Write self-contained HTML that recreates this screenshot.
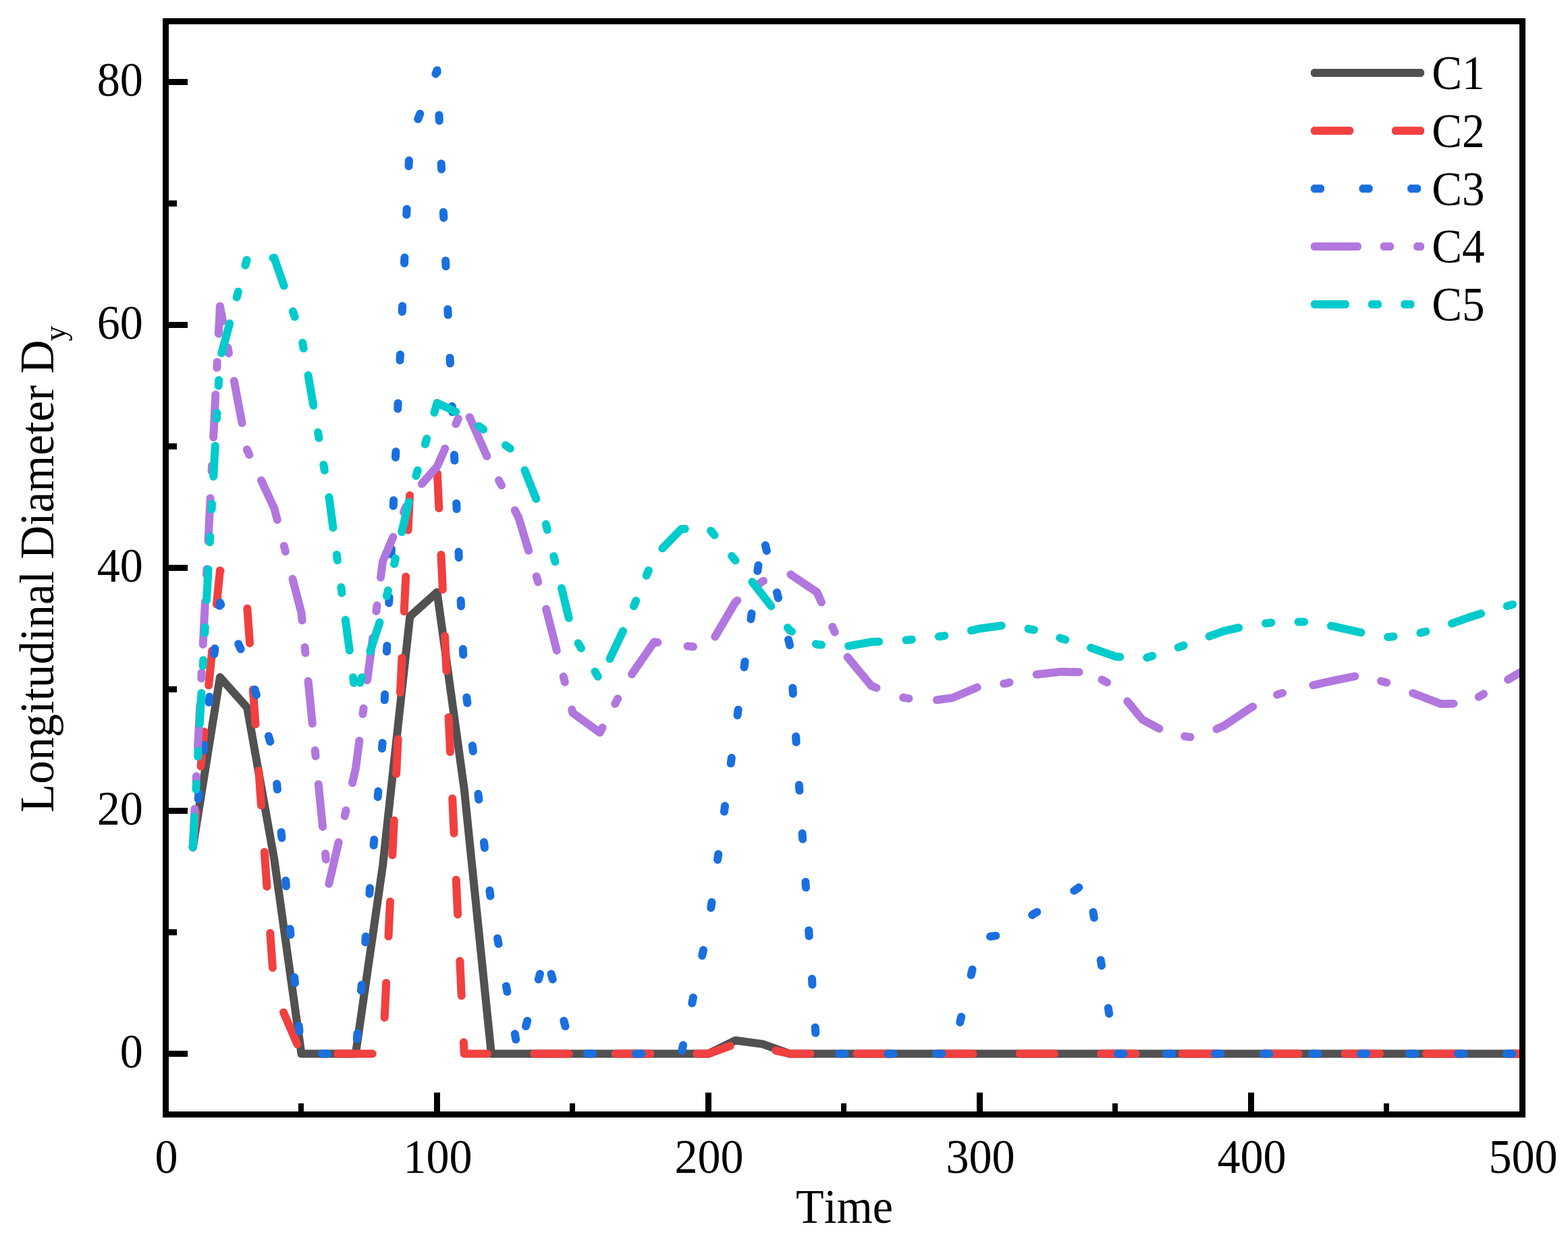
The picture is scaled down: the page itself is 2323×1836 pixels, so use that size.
<!DOCTYPE html>
<html lang="en">
<head>
<meta charset="utf-8">
<title>Longitudinal Diameter vs Time</title>
<style>
html,body{margin:0;padding:0;background:#fff;}
svg{display:block;}
text{font-family:"Liberation Serif","Times New Roman",Times,serif;fill:#000;font-kerning:none;}
.c{fill:none;stroke-width:12;stroke-linecap:round;stroke-linejoin:round;}
.d{fill:none;stroke-linecap:butt;stroke-linejoin:round;}
</style>
</head>
<body>
<svg xmlns="http://www.w3.org/2000/svg" width="2323" height="1836" viewBox="0 0 2323 1836">
<rect x="0" y="0" width="2323" height="1836" fill="#fff"/>
<defs><clipPath id="pc"><rect x="241" y="27" width="2015" height="1629"/></clipPath></defs>
<g clip-path="url(#pc)">
<path class="c" stroke="#515151" d="M285.7 1255.5 L325.9 1003.5 L366.1 1048.5 L406.3 1273.5 L446.5 1561.5 L486.7 1561.5 L526.9 1561.5 L567.1 1282.5 L607.3 913.5 L647.5 877.5 L687.7 1169.1 L727.9 1561.5 L768.1 1561.5 L808.3 1561.5 L848.5 1561.5 L888.7 1561.5 L928.9 1561.5 L969.1 1561.5 L1009.3 1561.5 L1049.5 1561.5 L1089.7 1541.7 L1129.9 1547.1 L1170.1 1561.5 L1210.3 1561.5 L1250.5 1561.5 L1290.7 1561.5 L1330.9 1561.5 L1371.1 1561.5 L1411.3 1561.5 L1451.5 1561.5 L1491.7 1561.5 L1531.9 1561.5 L1572.1 1561.5 L1612.3 1561.5 L1652.5 1561.5 L1692.7 1561.5 L1732.9 1561.5 L1773.1 1561.5 L1813.3 1561.5 L1853.5 1561.5 L1893.7 1561.5 L1933.9 1561.5 L1974.1 1561.5 L2014.3 1561.5 L2054.5 1561.5 L2094.7 1561.5 L2134.9 1561.5 L2175.1 1561.5 L2215.3 1561.5 L2255.5 1561.5"/>
<path class="c" stroke="#F14040" stroke-dasharray="51.51 69.02" stroke-dashoffset="0" d="M285.7 1255.5 L325.9 845.44 L366.1 897.28 L406.3 1468.42 L446.5 1561.5 L486.7 1561.5 L526.9 1561.5 L567.1 1561.5 L607.3 728.82 L647.5 692.28 L687.7 1561.5 L727.9 1561.5 L768.1 1561.5 L808.3 1561.5 L848.5 1561.5 L888.7 1561.5 L928.9 1561.5 L969.1 1561.5 L1009.3 1561.5 L1049.5 1561.5 L1089.7 1547.1 L1129.9 1552.5 L1170.1 1561.5 L1210.3 1561.5 L1250.5 1561.5 L1290.7 1561.5 L1330.9 1561.5 L1371.1 1561.5 L1411.3 1561.5 L1451.5 1561.5 L1491.7 1561.5 L1531.9 1561.5 L1572.1 1561.5 L1612.3 1561.5 L1652.5 1561.5 L1692.7 1561.5 L1732.9 1561.5 L1773.1 1561.5 L1813.3 1561.5 L1853.5 1561.5 L1893.7 1561.5 L1933.9 1561.5 L1974.1 1561.5 L2014.3 1561.5 L2054.5 1561.5 L2094.7 1561.5 L2134.9 1561.5 L2175.1 1561.5 L2215.3 1561.5 L2255.5 1561.5"/>
<path class="c" stroke="#1A6FDF" stroke-dasharray="8.4 63.6" stroke-dashoffset="0" d="M285.7 1255.5 L325.9 892.87 L366.1 983.12 L406.3 1119.28 L446.5 1561.5 L486.7 1561.5 L526.9 1561.5 L567.1 1095.43 L607.3 207 L647.5 104.17 L687.7 1002.74 L727.9 1339.94 L768.1 1561.5 L808.3 1412.48 L848.5 1561.5 L888.7 1561.5 L928.9 1561.5 L969.1 1561.5 L1009.3 1561.5 L1049.5 1372.54 L1089.7 1080.4 L1129.9 791.55 L1170.1 956.3 L1210.3 1561.5 L1250.5 1561.5 L1290.7 1561.5 L1330.9 1561.5 L1371.1 1561.5 L1411.3 1561.5 L1451.5 1389.98 L1491.7 1384.36 L1531.9 1353.83 L1572.1 1333.03 L1612.3 1305.52 L1652.5 1561.5 L1692.7 1561.5 L1732.9 1561.5 L1773.1 1561.5 L1813.3 1561.5 L1853.5 1561.5 L1893.7 1561.5 L1933.9 1561.5 L1974.1 1561.5 L2014.3 1561.5 L2054.5 1561.5 L2094.7 1561.5 L2134.9 1561.5 L2175.1 1561.5 L2215.3 1561.5 L2255.5 1561.5"/>
<path class="c" stroke="#B177DE" stroke-dasharray="63.26 39.96 8.48 41.97" stroke-dashoffset="6.37" d="M285.7 1255.5 L325.9 453.74 L366.1 666.9 L406.3 753.21 L446.5 908.12 L486.7 1312.43 L526.9 1139.4 L567.1 831.78 L607.3 737.05 L647.5 691.49 L687.7 600.12 L727.9 690.98 L768.1 766.33 L808.3 899.21 L848.5 1056.47 L888.7 1085.67 L928.9 1009.39 L969.1 951.3 L986.2 953.6"/>
<path class="c" stroke="#B177DE" stroke-dasharray="63.26 39.96 8.48 41.97" stroke-dashoffset="70.64" d="M986.2 953.6 L1009.3 956.7 L1049.5 960.3 L1089.7 891.9 L1129.9 861.3 L1170.1 850.5 L1210.3 877.5 L1250.5 967.5 L1290.7 1016.1 L1307.4 1022.83"/>
<path class="c" stroke="#B177DE" stroke-dasharray="63.26 39.96 8.48 41.97" stroke-dashoffset="70.58" d="M1307.4 1022.83 L1330.9 1032.3 L1371.1 1039.5 L1411.3 1034.1 L1451.5 1017 L1491.7 1012.5 L1531.9 999.9 L1572.1 995.4 L1612.3 996.3"/>
<path class="c" stroke="#B177DE" stroke-dasharray="63.26 39.96 8.48 41.97" stroke-dashoffset="80.21" d="M1612.3 996.3 L1652.5 1017.9 L1692.7 1066.5 L1732.9 1088.1 L1773.1 1093.5 L1813.3 1075.5 L1853.5 1048.5 L1893.7 1028.7 L1933.42 1018.03"/>
<path class="c" stroke="#B177DE" stroke-dasharray="63.26 39.96 8.48 41.97" stroke-dashoffset="141.37" d="M1933.42 1018.03 L1933.9 1017.9 L1974.1 1008.9 L2014.3 1000.8 L2054.5 1011.6 L2094.7 1027.8 L2134.9 1043.1 L2175.1 1042.2 L2215.3 1017.9 L2255.5 994.5"/>
<path class="c" stroke="#00CBCC" stroke-dasharray="45.55 40.31 8.46 40.31 8.46 40.31" stroke-dashoffset="0" d="M285.7 1255.5 L325.9 532.3 L366.1 383.36 L406.3 382.1 L446.5 497.88 L486.7 731.34 L526.9 1031.53 L567.1 907.97 L607.3 736.81 L647.5 597.11 L687.7 615.91 L727.9 644.76 L768.1 673.42 L808.3 774.63 L848.5 939.47 L888.7 1007.48 L928.9 922.52 L969.1 825.3"/>
<path class="c" stroke="#00CBCC" stroke-dasharray="45.55 40.31 8.46 40.31 8.46 40.31" stroke-dashoffset="165.73" d="M969.1 825.3 L1009.3 783.9 L1049.5 782.1 L1089.7 830.7 L1129.9 882 L1170.1 934.2 L1210.3 954.9 L1250.5 958.5 L1290.7 951.3 L1330.9 949.5 L1371.1 945.9 L1411.3 940.5 L1451.5 931.5 L1491.7 926.1 L1531.9 933.3 L1572.1 945.9 L1609.2 957.53"/>
<path class="c" stroke="#00CBCC" stroke-dasharray="45.55 40.31 8.46 40.31 8.46 40.31" stroke-dashoffset="176.09" d="M1609.2 957.53 L1612.3 958.5 L1652.5 972.9 L1692.7 976.5 L1732.9 963.9 L1773.1 949.5 L1813.3 935.1 L1853.5 926.1 L1893.7 921.6 L1933.9 921.6 L1974.1 927.9 L2014.3 936.9 L2054.5 944.1 L2094.7 940.5 L2134.9 929.7 L2175.1 915.3 L2215.3 902.7 L2255.5 891.9"/>
</g>
<rect x="245.5" y="31.5" width="2010" height="1620" fill="none" stroke="#000" stroke-width="9"/>
<g fill="#000">
<rect x="249" y="1557" width="29" height="9"/>
<rect x="249" y="1377" width="13" height="9"/>
<rect x="249" y="1197" width="29" height="9"/>
<rect x="249" y="1017" width="13" height="9"/>
<rect x="249" y="837" width="29" height="9"/>
<rect x="249" y="657" width="13" height="9"/>
<rect x="249" y="477" width="29" height="9"/>
<rect x="249" y="297" width="13" height="9"/>
<rect x="249" y="117" width="29" height="9"/>
<rect x="442" y="1635" width="8" height="13"/>
<rect x="643" y="1619" width="9" height="29"/>
<rect x="844" y="1635" width="8" height="13"/>
<rect x="1045" y="1619" width="9" height="29"/>
<rect x="1246" y="1635" width="8" height="13"/>
<rect x="1447" y="1619" width="9" height="29"/>
<rect x="1648" y="1635" width="8" height="13"/>
<rect x="1849" y="1619" width="9" height="29"/>
<rect x="2050" y="1635" width="8" height="13"/>
</g>
<text transform="translate(211.8 1581.9) scale(0.96 1)" font-size="71" text-anchor="end">0</text>
<text transform="translate(211.8 1221.9) scale(0.96 1)" font-size="71" text-anchor="end">20</text>
<text transform="translate(211.8 861.9) scale(0.96 1)" font-size="71" text-anchor="end">40</text>
<text transform="translate(211.8 501.9) scale(0.96 1)" font-size="71" text-anchor="end">60</text>
<text transform="translate(211.8 141.9) scale(0.96 1)" font-size="71" text-anchor="end">80</text>
<text transform="translate(246.5 1738) scale(0.96 1)" font-size="71" text-anchor="middle">0</text>
<text transform="translate(648.5 1738) scale(0.96 1)" font-size="71" text-anchor="middle">100</text>
<text transform="translate(1050.5 1738) scale(0.96 1)" font-size="71" text-anchor="middle">200</text>
<text transform="translate(1452.5 1738) scale(0.96 1)" font-size="71" text-anchor="middle">300</text>
<text transform="translate(1854.5 1738) scale(0.96 1)" font-size="71" text-anchor="middle">400</text>
<text transform="translate(2256.5 1738) scale(0.96 1)" font-size="71" text-anchor="middle">500</text>
<text transform="translate(1251 1811.7) scale(0.96 1)" font-size="71" text-anchor="middle">Time</text>
<text transform="translate(78.9 1204) rotate(-90) scale(0.976 1)" font-size="71">Longitudinal Diameter D<tspan dx="-2" dy="18.2" font-size="46.5">y</tspan></text>
<path class="d" stroke="#515151" stroke-width="12" d="M1944.9 108 L2107.1 108"/>
<path class="d" stroke="#515151" stroke-width="10.2" d="M1944 108 L2108 108"/>
<path class="d" stroke="#515151" stroke-width="8.4" d="M1943.1 108 L2108.9 108"/>
<path class="d" stroke="#515151" stroke-width="6.4" d="M1942 108 L2110 108"/>
<text transform="translate(2121.2 132) scale(0.945 1)" font-size="71" text-anchor="start">C1</text>
<path class="d" stroke="#F14040" stroke-width="12" stroke-dasharray="57.3 62.7" d="M1944.9 193.8 L2107.1 193.8"/>
<path class="d" stroke="#F14040" stroke-width="10.2" stroke-dasharray="59.1 60.9" d="M1944 193.8 L2108 193.8"/>
<path class="d" stroke="#F14040" stroke-width="8.4" stroke-dasharray="60.9 59.1" d="M1943.1 193.8 L2108.9 193.8"/>
<path class="d" stroke="#F14040" stroke-width="6.4" stroke-dasharray="63.1 56.9" d="M1942 193.8 L2110 193.8"/>
<text transform="translate(2121.2 217.8) scale(0.945 1)" font-size="71" text-anchor="start">C2</text>
<path class="d" stroke="#1A6FDF" stroke-width="12" stroke-dasharray="14.2 57.4" d="M1944.9 279.5 L2107.1 279.5"/>
<path class="d" stroke="#1A6FDF" stroke-width="10.2" stroke-dasharray="16 55.6" d="M1944 279.5 L2108 279.5"/>
<path class="d" stroke="#1A6FDF" stroke-width="8.4" stroke-dasharray="17.8 53.8" d="M1943.1 279.5 L2108.9 279.5"/>
<path class="d" stroke="#1A6FDF" stroke-width="6.4" stroke-dasharray="20 51.6" d="M1942 279.5 L2110 279.5"/>
<text transform="translate(2121.2 303.5) scale(0.945 1)" font-size="71" text-anchor="start">C3</text>
<path class="d" stroke="#B177DE" stroke-width="12" stroke-dasharray="69 34 14.2 35.1" d="M1944.9 365.3 L2107.1 365.3"/>
<path class="d" stroke="#B177DE" stroke-width="10.2" stroke-dasharray="70.8 32.2 16 33.3" d="M1944 365.3 L2108 365.3"/>
<path class="d" stroke="#B177DE" stroke-width="8.4" stroke-dasharray="72.6 30.4 17.8 31.5" d="M1943.1 365.3 L2108.9 365.3"/>
<path class="d" stroke="#B177DE" stroke-width="6.4" stroke-dasharray="74.8 28.2 20 29.3" d="M1942 365.3 L2110 365.3"/>
<text transform="translate(2121.2 389.3) scale(0.945 1)" font-size="71" text-anchor="start">C4</text>
<path class="d" stroke="#00CBCC" stroke-width="12" stroke-dasharray="51 34 14.2 34.2 14.2 34.2" d="M1944.9 451 L2107.1 451"/>
<path class="d" stroke="#00CBCC" stroke-width="10.2" stroke-dasharray="52.8 32.2 16 32.4 16 32.4" d="M1944 451 L2108 451"/>
<path class="d" stroke="#00CBCC" stroke-width="8.4" stroke-dasharray="54.6 30.4 17.8 30.6 17.8 30.6" d="M1943.1 451 L2108.9 451"/>
<path class="d" stroke="#00CBCC" stroke-width="6.4" stroke-dasharray="56.8 28.2 20 28.4 20 28.4" d="M1942 451 L2110 451"/>
<text transform="translate(2121.2 475) scale(0.945 1)" font-size="71" text-anchor="start">C5</text>
</svg>
</body>
</html>
